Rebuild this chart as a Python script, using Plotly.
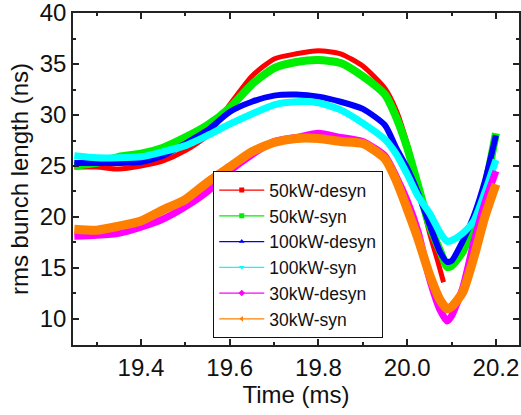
import plotly.graph_objects as go

# x positions (ms) at which values were read
x_main = [19.25, 19.30, 19.35, 19.40, 19.45, 19.50, 19.55, 19.60, 19.65, 19.70,
          19.75, 19.80, 19.85, 19.90, 19.95, 19.975, 20.00, 20.025, 20.05, 20.075,
          20.09, 20.10, 20.125, 20.15, 20.175, 20.20]
x_red = [19.25, 19.30, 19.35, 19.40, 19.45, 19.50, 19.55, 19.60, 19.65, 19.70,
         19.75, 19.80, 19.85, 19.90, 19.95, 19.975, 20.00, 20.025, 20.05, 20.07, 20.082]

red_50_desyn = [24.9, 24.9, 24.7, 25.0, 25.5, 26.5, 28.0, 31.0, 33.8, 35.5,
                36.0, 36.3, 36.0, 34.8, 32.6, 30.5, 27.2, 23.0, 18.5, 15.5, 13.6]
green_50_syn = [25.0, 25.3, 25.9, 26.2, 26.8, 27.8, 29.0, 30.7, 33.0, 34.6,
                35.2, 35.4, 35.1, 33.8, 32.0, 29.8, 26.8, 23.0, 19.2, 16.6,
                15.1, 15.2, 16.6, 19.4, 22.8, 28.2]
blue_100_desyn = [25.3, 25.3, 25.3, 25.4, 26.0, 27.2, 28.5, 30.3, 31.3, 31.9,
                  32.0, 31.8, 31.3, 30.6, 29.0, 26.8, 24.8, 22.3, 19.3, 16.5,
                  15.6, 15.7, 17.6, 20.1, 23.5, 28.0]
cyan_100_syn = [26.0, 25.8, 25.8, 25.9, 26.4, 27.0, 28.0, 29.1, 30.1, 31.0,
                31.3, 31.2, 30.5, 29.2, 27.6, 26.2, 24.2, 22.0, 20.4, 18.4,
                17.6, 17.7, 18.4, 19.6, 22.4, 25.6]
magenta_30_desyn = [18.1, 18.2, 18.4, 19.0, 19.8, 21.0, 22.5, 24.5, 26.1, 27.4,
                    27.8, 28.2, 27.8, 27.4, 26.0, 24.0, 21.6, 18.5, 14.0, 10.8,
                    9.8, 10.3, 13.0, 17.5, 21.4, 24.5]
orange_30_syn = [18.8, 18.7, 19.1, 19.6, 20.7, 21.7, 23.4, 24.9, 26.4, 27.3,
                 27.7, 27.7, 27.4, 27.2, 25.7, 23.6, 20.8, 17.8, 14.4, 11.8,
                 11.0, 11.2, 12.6, 16.0, 20.0, 23.2]

names = ["50kW-desyn", "50kW-syn", "100kW-desyn", "100kW-syn", "30kW-desyn", "30kW-syn"]
colors = ["#FF0000", "#00EE00", "#0000FF", "#00FFFF", "#FF00FF", "#FF8000"]
symbols = ["square", "square", "triangle-up", "triangle-down", "diamond", "triangle-left"]
widths = [5, 8, 6, 7, 7, 9]
xs = [x_red, x_main, x_main, x_main, x_main, x_main]
ys = [red_50_desyn, green_50_syn, blue_100_desyn, cyan_100_syn, magenta_30_desyn, orange_30_syn]

FONT = "Liberation Sans, Arial"

fig = go.Figure()
for n, c, w, xv, yv in zip(names, colors, widths, xs, ys):
    fig.add_trace(go.Scatter(x=xv, y=yv, mode="lines", line=dict(color=c, width=w, shape="spline", smoothing=0.6),
                             showlegend=False, hoverinfo="skip"))
for n, c, s in zip(names, colors, symbols):
    fig.add_trace(go.Scatter(x=[None], y=[None], mode="lines+markers", name=n,
                             line=dict(color=c, width=1.2), marker=dict(color=c, symbol=s, size=5)))

axis_common = dict(showline=True, linecolor="#222", linewidth=1.5, mirror="allticks",
                   ticks="inside", ticklen=6, tickwidth=1.5, tickcolor="#222",
                   showgrid=False, zeroline=False, automargin=False, ticklabeloverflow="allow",
                   tickfont=dict(family=FONT, size=24, color="#111"),
                   title_font=dict(family=FONT, size=24, color="#111"))

fig.update_xaxes(range=[19.247, 20.252], tickvals=[19.4, 19.6, 19.8, 20.0, 20.2], tickformat=".1f",
                 minor=dict(tickvals=[19.3, 19.5, 19.7, 19.9, 20.1], ticks="inside", ticklen=3, tickcolor="#222", tickwidth=1.5),
                 title_text="Time (ms)", title_standoff=6, **axis_common)
fig.update_yaxes(range=[7.45, 40], tickvals=[10, 15, 20, 25, 30, 35, 40],
                 minor=dict(tickvals=[12.5, 17.5, 22.5, 27.5, 32.5, 37.5], ticks="inside", ticklen=3, tickcolor="#222", tickwidth=1.5),
                 title_text="rms bunch length (ns)", title_standoff=4, **axis_common)

fig.update_layout(width=521, height=415, margin=dict(l=73, r=2, t=13, b=70),
                  plot_bgcolor="white", paper_bgcolor="white",
                  legend=dict(x=0.314, y=0.021, xanchor="left", yanchor="bottom",
                              bordercolor="#111", borderwidth=1.2, bgcolor="white",
                              font=dict(family=FONT, size=17.5, color="#111"),
                              itemwidth=45, tracegroupgap=0))
# remove the default page margin so the figure sits at the window's top-left corner
fig.write_html("out.html", config={"displayModeBar": False},
               post_script="document.body.style.margin='0';")
